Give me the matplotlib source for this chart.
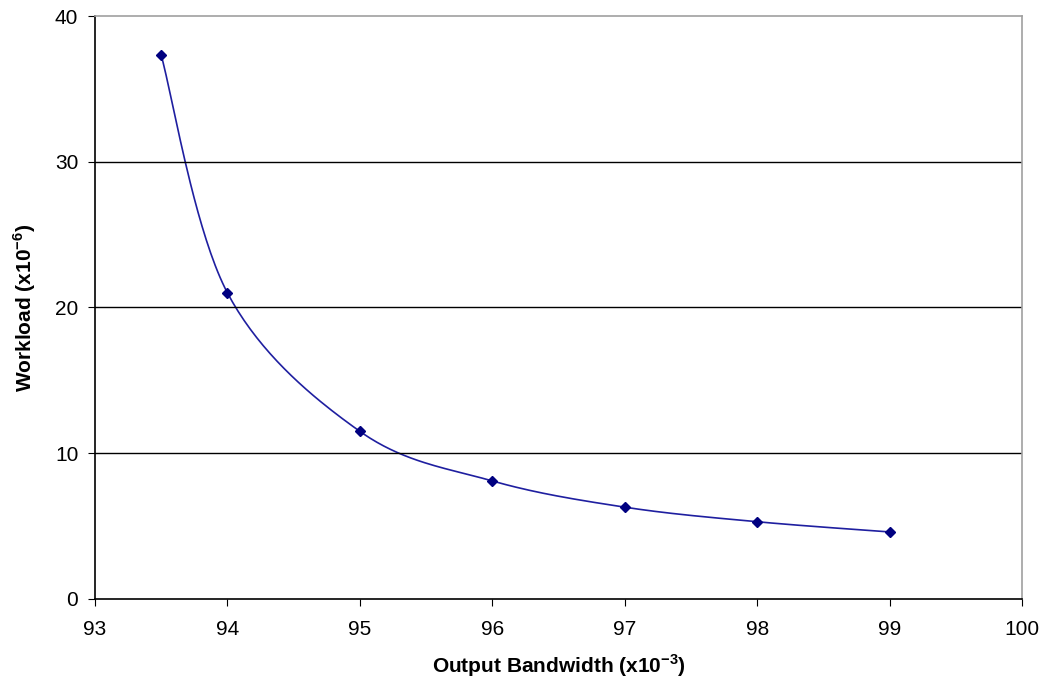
import matplotlib
matplotlib.use("Agg")
import matplotlib.pyplot as plt
import numpy as np

bandwidth = [93.5, 94, 95, 96, 97, 98, 99]
workload = [37.3, 21.0, 11.5, 8.1, 6.3, 5.3, 4.6]

plt.rcParams['font.family'] = ['Liberation Sans', 'DejaVu Sans']

fig = plt.figure(figsize=(10.42, 6.84), dpi=100)
ax = fig.add_axes([0.0912, 0.1243, 0.8896, 0.8523])
ax.set_xlim(93, 100)
ax.set_ylim(0, 40)


def smooth(ax, xs, ys, n=40):
    # excel-style smoothed line: bezier through points, done in pixel space
    pts = ax.transData.transform(np.column_stack([xs, ys]))
    out = [pts[0]]
    for i in range(len(pts) - 1):
        p0 = pts[i - 1] if i > 0 else pts[i]
        p1 = pts[i]
        p2 = pts[i + 1]
        p3 = pts[i + 2] if i + 2 < len(pts) else pts[i + 1]
        c1 = p1 + (p2 - p0) / 6
        c2 = p2 - (p3 - p1) / 6
        t = np.linspace(0, 1, n)[1:, None]
        seg = ((1 - t) ** 3) * p1 + 3 * ((1 - t) ** 2) * t * c1 + 3 * (1 - t) * t ** 2 * c2 + t ** 3 * p2
        out.extend(seg)
    out = ax.transData.inverted().transform(np.array(out))
    return out[:, 0], out[:, 1]


sx, sy = smooth(ax, bandwidth, workload)
ax.plot(sx, sy, color='#1f1fa0', lw=1.2)
ax.plot(bandwidth, workload, 'D', color='#000080', ms=5.5, ls='none')

ax.set_xticks(range(93, 101))
ax.set_yticks(range(0, 41, 10))
for y in (10, 20, 30):
    ax.axhline(y, color='black', lw=1)

ax.spines['left'].set_color('black')
ax.spines['bottom'].set_color('black')
ax.spines['top'].set_color('#a0a0a0')
ax.spines['right'].set_color('#a0a0a0')
for s in ax.spines.values():
    s.set_linewidth(1.2)
ax.tick_params(direction='out', length=5, labelsize=15)
ax.tick_params(axis='x', pad=10)
ax.tick_params(axis='y', pad=7)

ax.set_xlabel('Output Bandwidth (x10$^{\\mathregular{-3}}$)', fontsize=15, fontweight='bold', labelpad=10)
ax.set_ylabel('Workload (x10$^{\\mathregular{-6}}$)', fontsize=15, fontweight='bold', labelpad=12)

fig.savefig('out.png', dpi=100)
